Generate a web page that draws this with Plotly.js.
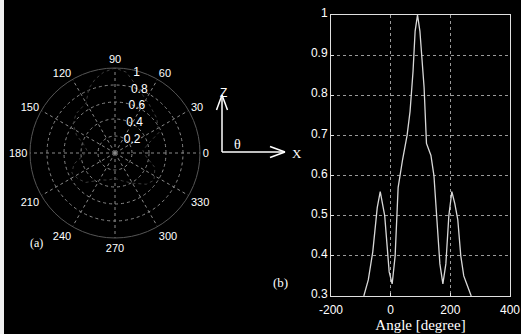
<!DOCTYPE html>
<html>
<head>
<meta charset="utf-8">
<script src="https://cdn.plot.ly/plotly-3.0.1.min.js"></script>
<style>
html,body{margin:0;padding:0;background:#000;}
#chart{width:521px;height:334px;}
</style>
</head>
<body>
<div id="chart"></div>
<script>
// Radiation pattern
const angleDeg = [-90, -75, -60, -45, -35, -20, -5, 5, 15, 25, 40, 55, 65, 75, 82, 90, 98, 105, 112, 120, 135, 145, 155, 165, 175, 185, 195, 205, 215, 225, 235, 245, 255, 270];
const gain =     [0.30, 0.34, 0.41, 0.52, 0.56, 0.50, 0.36, 0.33, 0.40, 0.57, 0.64, 0.70, 0.76, 0.86, 0.96, 1.00, 0.96, 0.90, 0.82, 0.68, 0.65, 0.60, 0.50, 0.38, 0.33, 0.38, 0.50, 0.56, 0.53, 0.49, 0.40, 0.35, 0.33, 0.30];
const xTicks = [-200, 0, 200, 400];
const yTicks = [0.3, 0.4, 0.5, 0.6, 0.7, 0.8, 0.9, 1];
const yTickText = ['0.3', '0.4', '0.5', '0.6', '0.7', '0.8', '0.9', '1'];
const rTicks = [0.2, 0.4, 0.6, 0.8, 1];
const rTickText = ['0.2', '0.4', '0.6', '0.8', '1'];
const thetaTicks = [0, 30, 60, 90, 120, 150, 180, 210, 240, 270, 300, 330];

const W = 521, H = 334;
const px = x => x / W;
const py = y => 1 - y / H;

const traces = [
  {
    type: 'scatter', x: angleDeg, y: gain, mode: 'lines',
    line: {color: '#d8d8d8', width: 1.3},
    xaxis: 'x', yaxis: 'y', hoverinfo: 'skip', showlegend: false
  },
  {
    type: 'scatterpolar', theta: angleDeg, r: gain, mode: 'lines',
    line: {color: '#3c3c3c', width: 1, dash: 'dot'},
    subplot: 'polar', hoverinfo: 'skip', showlegend: false
  }
];

const white = '#ffffff';
const sansFont = {family: 'Liberation Sans, Arial, sans-serif', size: 11, color: white};
const serifFont = {family: 'Liberation Serif, Times New Roman, serif', size: 15, color: white};

const layout = {
  width: W, height: H,
  margin: {l: 0, r: 0, t: 0, b: 0},
  paper_bgcolor: '#000', plot_bgcolor: '#000',
  showlegend: false,
  xaxis: {
    domain: [px(331), px(510)], range: [-200, 400],
    tickvals: xTicks, ticktext: xTicks.map(String),
    showgrid: true, gridcolor: '#9a9a9a', griddash: 'dot', gridwidth: 1,
    zeroline: false, showline: true, linecolor: '#e0e0e0', linewidth: 1, mirror: true,
    ticks: 'inside', ticklen: 3, tickcolor: '#e0e0e0',
    ticklabelstandoff: 3,
    tickfont: {family: 'Liberation Sans, Arial, sans-serif', size: 12, color: white},
    title: {text: 'Angle [degree]', font: serifFont, standoff: 0}
  },
  yaxis: {
    domain: [py(296), py(15)], range: [0.3, 1],
    tickvals: yTicks, ticktext: yTickText,
    showgrid: true, gridcolor: '#9a9a9a', griddash: 'dot', gridwidth: 1,
    zeroline: false, showline: true, linecolor: '#e0e0e0', linewidth: 1, mirror: true,
    ticks: 'inside', ticklen: 3, tickcolor: '#e0e0e0',
    ticklabelshift: -2,
    tickfont: {family: 'Liberation Sans, Arial, sans-serif', size: 12, color: white}
  },
  polar: {
    domain: {x: [px(115 - 85), px(115 + 85)], y: [py(153 + 85), py(153 - 85)]},
    bgcolor: '#000',
    radialaxis: {
      range: [0, 1], tickvals: rTicks, ticktext: rTickText, angle: 82, tickangle: 82,
      showline: false, showgrid: true, gridcolor: '#8a8a8a', griddash: 'dot',
      ticks: '', tickfont: {family: 'Liberation Sans, Arial, sans-serif', size: 12, color: white}
    },
    angularaxis: {
      tickvals: thetaTicks, ticktext: thetaTicks.map(String),
      direction: 'counterclockwise', rotation: 0,
      showgrid: true, gridcolor: '#8a8a8a', griddash: 'dot',
      showline: true, linecolor: '#555', linewidth: 1,
      ticks: '', tickfont: sansFont
    }
  },
  shapes: [
    // left white border of the scan
    {type: 'rect', xref: 'paper', yref: 'paper', x0: 0, x1: px(4), y0: py(334), y1: 1, fillcolor: '#f0f0f0', line: {width: 0}},
    // coordinate sketch: Z arrow
    {type: 'line', xref: 'paper', yref: 'paper', x0: px(222), y0: py(152), x1: px(222), y1: py(95), line: {color: white, width: 1.5}},
    {type: 'line', xref: 'paper', yref: 'paper', x0: px(216.5), y0: py(110), x1: px(222), y1: py(95), line: {color: white, width: 1.5}},
    {type: 'line', xref: 'paper', yref: 'paper', x0: px(227.5), y0: py(110), x1: px(222), y1: py(95), line: {color: white, width: 1.5}},
    // X arrow
    {type: 'line', xref: 'paper', yref: 'paper', x0: px(222), y0: py(152), x1: px(285), y1: py(152), line: {color: white, width: 1.5}},
    {type: 'line', xref: 'paper', yref: 'paper', x0: px(270), y0: py(146.5), x1: px(285), y1: py(152), line: {color: white, width: 1.5}},
    {type: 'line', xref: 'paper', yref: 'paper', x0: px(270), y0: py(157.5), x1: px(285), y1: py(152), line: {color: white, width: 1.5}}
  ],
  annotations: [
    {xref: 'paper', yref: 'paper', x: px(223), y: py(84), text: 'Z', showarrow: false, font: {family: 'Liberation Sans, Arial, sans-serif', size: 12, color: white}},
    {xref: 'paper', yref: 'paper', x: px(297), y: py(153), text: 'X', showarrow: false, font: {family: 'Liberation Serif, serif', size: 13, color: white}},
    {xref: 'paper', yref: 'paper', x: px(237), y: py(144), text: 'θ', showarrow: false, font: {family: 'Liberation Serif, serif', size: 14, color: white}},
    {xref: 'paper', yref: 'paper', x: px(28), y: py(252), text: '(a)', showarrow: false, font: {family: 'Liberation Serif, serif', size: 12, color: white}},
    {xref: 'paper', yref: 'paper', x: px(280), y: py(292), text: '(b)', showarrow: false, font: {family: 'Liberation Serif, serif', size: 13, color: white}}
  ]
};

Plotly.newPlot('chart', traces, layout, {staticPlot: true, displayModeBar: false});
</script>
</body>
</html>
